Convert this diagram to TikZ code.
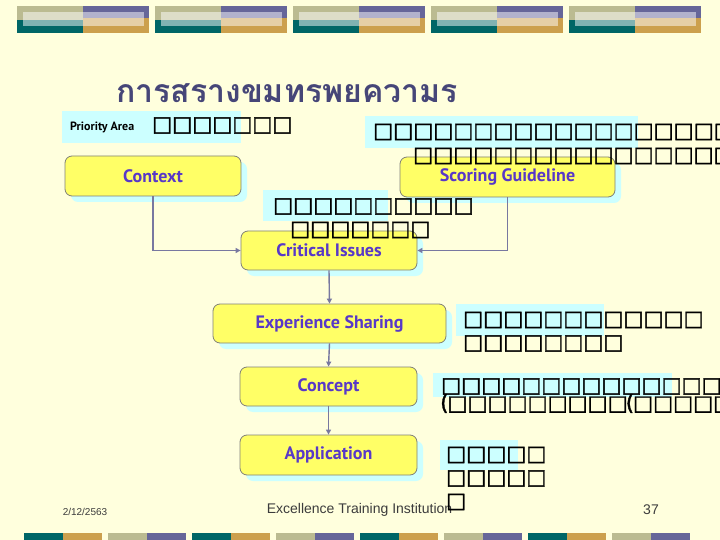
\documentclass[tikz,border=0pt]{standalone}
\usepackage{fontspec}
\setmainfont{Liberation Sans}
\newfontfamily\thaifont[Script=Thai]{Loma}
\newfontfamily\boxfont[FakeBold=1.6]{DejaVu Sans}
\newfontfamily\lblfont{PT Sans}
\usetikzlibrary{arrows.meta,shadows}
\definecolor{bg}{RGB}{255,255,221}
\definecolor{olive}{RGB}{187,187,145}
\definecolor{purp}{RGB}{102,102,153}
\definecolor{teal2}{RGB}{0,102,102}
\definecolor{gold}{RGB}{204,160,77}
\definecolor{boxyellow}{RGB}{255,255,102}
\definecolor{boxborder}{RGB}{128,128,120}
\definecolor{shadowcyan}{RGB}{204,255,255}
\definecolor{lblblue}{RGB}{88,56,200}
\definecolor{titleblue}{RGB}{70,70,120}
\definecolor{conncol}{RGB}{120,120,160}
\definecolor{foot}{RGB}{60,60,60}
\tikzset{
  stepbox/.style={draw=boxborder, fill=boxyellow, rounded corners=7pt, line width=0.8pt,
    inner sep=0pt, minimum height=40pt,
    font=\lblfont\bfseries\fontsize{18}{20}\selectfont, text=lblblue,
    drop shadow={shadow xshift=6pt, shadow yshift=-6pt, fill=shadowcyan, opacity=1}},
  tofu/.style={inner sep=0pt, anchor=west, font=\boxfont\fontsize{21.2}{22}\selectfont, text=black},
  hl/.style={fill=shadowcyan},
  conn/.style={draw=conncol, line width=1.4pt, -{Triangle[length=5pt,width=5pt]}},
  foottext/.style={inner sep=0pt, text=foot, font=\fontsize{14}{16}\selectfont}
}
\begin{document}
\begin{tikzpicture}[x=1pt,y=-1pt]
\useasboundingbox (0,0) rectangle (720,540);
\clip (0,0) rectangle (720,540);
\fill[bg] (0,0) rectangle (720,540);
% top bar
\foreach \i in {0,...,4}{
  \pgfmathsetmacro{\xa}{17+138*\i}
  \fill[olive] (\xa,6) rectangle (\xa+66,20);
  \fill[teal2] (\xa,20) rectangle (\xa+66,33);
  \fill[purp] (\xa+66,6) rectangle (\xa+132,18.5);
  \fill[gold] (\xa+66,18.5) rectangle (\xa+132,33);
  \fill[white,opacity=0.5] (\xa+6,12.5) rectangle (\xa+127,26.5);
}
% bottom bar
\foreach \i in {0,...,7}{
  \pgfmathsetmacro{\xa}{24+84*\i}
  \pgfmathparse{mod(\i,2)==0 ? 1 : 0}
  \ifnum\pgfmathresult=1
    \fill[teal2] (\xa,533) rectangle (\xa+39,540);
    \fill[gold] (\xa+39,533) rectangle (\xa+78,540);
  \else
    \fill[olive] (\xa,533) rectangle (\xa+39,540);
    \fill[purp] (\xa+39,533) rectangle (\xa+78,540);
  \fi
}
% title
\node[inner sep=0pt, text=titleblue, font=\thaifont\bfseries\fontsize{32}{34}\selectfont] (title) at (287,93) {การสรางขมทรพยความร};
% highlight backgrounds
\fill[hl] (62,111) rectangle (241,143);
\fill[hl] (365,116) rectangle (638,148);
\fill[hl] (263,190) rectangle (388,221);
\fill[hl] (456,304) rectangle (604,336);
\fill[hl] (433,373) rectangle (672,397);
\fill[hl] (440,440) rectangle (518,470);
% boxes
\node[stepbox, minimum width=176pt] (ctx) at (153,176) {Context};
\node[stepbox, minimum width=215pt] (scor) at (507.5,177) {Scoring Guideline};
\node[stepbox, minimum width=176pt, minimum height=39pt] (crit) at (329,250.5) {Critical Issues};
\node[stepbox, minimum width=233pt, minimum height=39pt] (exp) at (329.5,323.5) {Experience Sharing};
\node[stepbox, minimum width=177pt, minimum height=39pt] (conc) at (328.5,386.5) {Concept};
\node[stepbox, minimum width=177pt] (appl) at (328.5,455) {Application};
% connectors
\draw[conn] (ctx.south) |- (crit.west);
\draw[conn] (scor.south) |- (crit.east);
\draw[conn] (crit.south) -- (exp.north);
\draw[conn] (exp.south) -- (conc.north);
\draw[conn] (conc.south) -- (appl.north);
% priority label
\node[inner sep=0pt, anchor=west, font=\lblfont\bfseries\fontsize{12}{13}\selectfont] (prio) at (70,127) {Priority Area};
% tofu texts
\node[tofu] (p1) at (152,125.5) {□□□□□□□};
\node[tofu] (r1) at (373,132) {□□□□□□□□□□□□□□□□□□□};
\node[tofu] (r2) at (413,156) {□□□□□□□□□□□□□□□□};
\node[tofu] (c1) at (273,206.5) {□□□□□□□□□□};
\node[tofu] (c2) at (290,230) {□□□□□□□};
\node[tofu] (e1) at (463,320) {□□□□□□□□□□□□};
\node[tofu] (e2) at (463,343.5) {□□□□□□□□};
\node[tofu] (k1) at (441,386.5) {□□□□□□□□□□□□□□□□};
\node[tofu] (k2) at (440,403.5) {(\kern-1pt□□□□□□□□□\kern-2pt(\kern-1pt□□□□□□};
\node[tofu] (a1) at (446,455) {□□□□□};
\node[tofu] (a2) at (446,478.5) {□□□□□};
% footer
\node[foottext, font=\fontsize{10}{11}\selectfont] (date) at (85,512) {2/12/2563};
\node[foottext] (inst) at (359.5,510) {Excellence Training Institution};
\node[foottext] (page) at (651,510) {37};
\node[tofu] (a3) at (446,502) {□};
\end{tikzpicture}
\end{document}
